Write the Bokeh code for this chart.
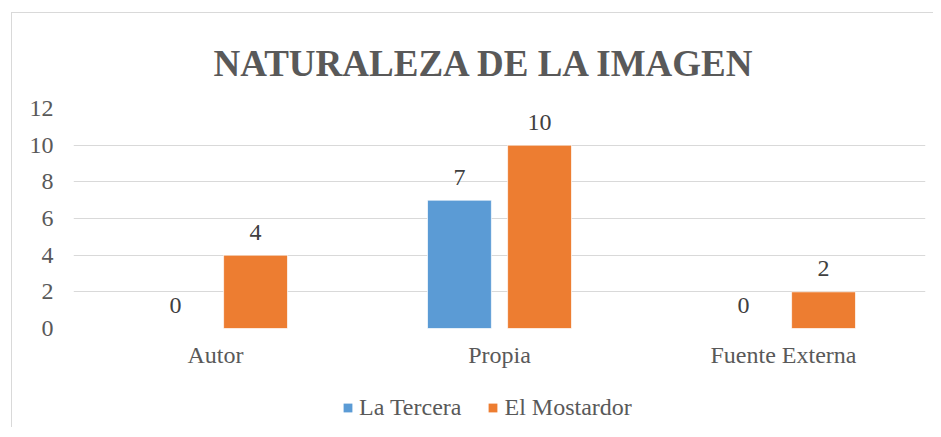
from bokeh.plotting import figure
from bokeh.layouts import column
from bokeh.models import (ColumnDataSource, FactorRange, LabelSet, Legend,
                          LegendItem, FixedTicker, Title, Range1d)
from bokeh.core.properties import value
from bokeh.transform import dodge
from bokeh.embed import file_html
from bokeh.resources import INLINE

# ---- data ----
title_text = "NATURALEZA DE LA IMAGEN"
categories = ["Autor", "Propia", "Fuente Externa"]
series_names = ["La Tercera", "El Mostardor"]
la_tercera = [0, 7, 0]
el_mostardor = [4, 10, 2]
y_ticks = [0, 2, 4, 6, 8, 10, 12]

BLUE = "#5B9BD5"
ORANGE = "#ED7D31"
AXIS_TXT = "#595959"
LBL_TXT = "#404040"
FONT = "'Liberation Serif'"
TXT_SIZE = "24px"

src_a = ColumnDataSource(dict(cat=categories, val=la_tercera,
                              txt=[str(v) for v in la_tercera]))
src_b = ColumnDataSource(dict(cat=categories, val=el_mostardor,
                              txt=[str(v) for v in el_mostardor]))

p = figure(width=921, height=367, output_backend="svg", toolbar_location=None,
           x_range=FactorRange(factors=categories, range_padding=0),
           y_range=(0, 12),
           min_border_left=61, min_border_right=8,
           min_border_top=95, min_border_bottom=52)
p.outline_line_color = None
p.background_fill_color = "white"
p.border_fill_color = "white"

r_a = p.vbar(x=dodge("cat", -0.141, range=p.x_range), top="val", width=0.225,
             source=src_a, fill_color=BLUE, line_color="white", line_width=0.7)
r_b = p.vbar(x=dodge("cat", 0.141, range=p.x_range), top="val", width=0.225,
             source=src_b, fill_color=ORANGE, line_color="white", line_width=0.7)

for src, off in ((src_a, -0.141), (src_b, 0.141)):
    p.add_layout(LabelSet(x=dodge("cat", off, range=p.x_range), y="val", text="txt",
                          source=src, text_align="center", text_baseline="middle",
                          y_offset=23, text_font=value(FONT),
                          text_font_size=value(TXT_SIZE), text_color=LBL_TXT))

# axes
p.yaxis.ticker = FixedTicker(ticks=y_ticks)
for ax in (p.xaxis[0], p.yaxis[0]):
    ax.axis_line_color = None
    ax.major_tick_line_color = None
    ax.minor_tick_line_color = None
    ax.major_tick_out = 0
    ax.major_tick_in = 0
    ax.major_label_text_font = FONT
    ax.major_label_text_font_size = TXT_SIZE
    ax.major_label_text_color = AXIS_TXT
p.yaxis.major_label_standoff = 20
p.xaxis.major_label_standoff = 13
p.xgrid.grid_line_color = None
p.ygrid.grid_line_color = "#d9d9d9"
p.ygrid.grid_line_width = 1

# title
p.add_layout(Title(text=title_text, align="left", offset=140, standoff=50,
                   text_font=FONT, text_font_size="37px", text_font_style="bold",
                   text_color=AXIS_TXT), "above")

# legend strip (separate small figure under the chart); its bars use the same
# data but lie outside its visible y range, so only the legend shows
lf = figure(width=921, height=47, output_backend="svg", toolbar_location=None,
            x_range=FactorRange(factors=categories, range_padding=0),
            y_range=Range1d(100, 101),
            min_border=0, min_border_left=0, min_border_right=0,
            min_border_top=0, min_border_bottom=0)
lf.axis.visible = False
lf.grid.visible = False
lf.outline_line_color = None
lf.border_fill_color = "white"
lf.background_fill_color = "white"
la = lf.vbar(x="cat", top="val", width=0.225, source=src_a,
             fill_color=BLUE, line_color=None)
lb = lf.vbar(x="cat", top="val", width=0.225, source=src_b,
             fill_color=ORANGE, line_color=None)
legend = Legend(items=[LegendItem(label=series_names[0], renderers=[la]),
                       LegendItem(label=series_names[1], renderers=[lb])],
                location=(269, 6), orientation="horizontal",
                glyph_width=11, glyph_height=11, label_standoff=6, spacing=26,
                padding=0, margin=0, border_line_color=None,
                background_fill_alpha=0,
                label_text_font=FONT, label_text_font_size=TXT_SIZE,
                label_text_color=AXIS_TXT, label_height=24)
lf.add_layout(legend, "center")

layout = column(p, lf, spacing=0)
layout.styles = {"margin-left": "11px", "margin-top": "12px",
                 "border-left": "1px solid #d9d9d9", "border-top": "1px solid #d9d9d9"}

open("out.html", "w").write(file_html(layout, INLINE))
